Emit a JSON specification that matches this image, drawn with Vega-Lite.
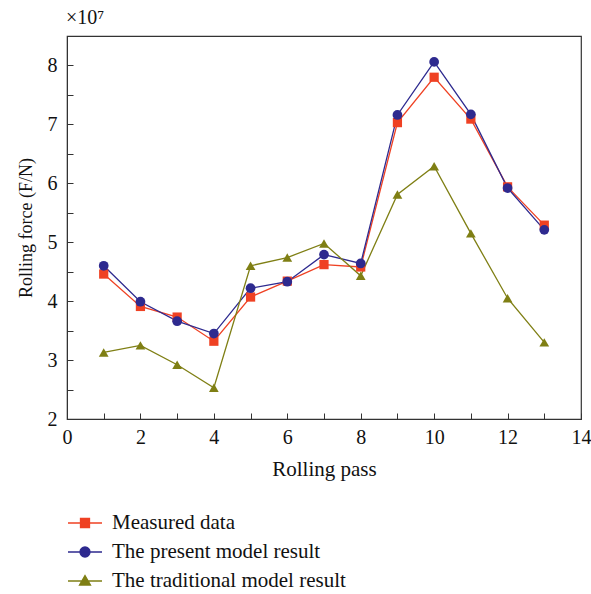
{
  "$schema": "https://vega.github.io/schema/vega-lite/v6.json",
  "width": 514,
  "height": 383,
  "autosize": "none",
  "padding": {"left": 67, "top": 36, "right": 10, "bottom": 175},
  "background": "white",
  "title": {"text": "×10⁷", "anchor": "start", "frame": "group", "font": "Liberation Serif", "fontSize": 20, "fontWeight": "normal", "color": "#111", "offset": 8, "dx": -1},
  "config": {
    "view": {"stroke": "#333", "strokeWidth": 1.2},
    "font": "Liberation Serif",
    "axis": {
      "grid": false,
      "domainColor": "#333",
      "tickColor": "#333",
      "labelFont": "Liberation Serif",
      "titleFont": "Liberation Serif",
      "labelFontSize": 20,
      "titleFontSize": 21,
      "labelColor": "#111",
      "titleColor": "#111",
      "titleFontWeight": "normal",
      "tickSize": -6,
      "labelFlush": false
    }
  },
  "data": {"values": [
    {"pass": 1, "series": "Measured data", "force": 4.46},
    {"pass": 2, "series": "Measured data", "force": 3.91},
    {"pass": 3, "series": "Measured data", "force": 3.73},
    {"pass": 4, "series": "Measured data", "force": 3.32},
    {"pass": 5, "series": "Measured data", "force": 4.07},
    {"pass": 6, "series": "Measured data", "force": 4.34},
    {"pass": 7, "series": "Measured data", "force": 4.62},
    {"pass": 8, "series": "Measured data", "force": 4.58},
    {"pass": 9, "series": "Measured data", "force": 7.03},
    {"pass": 10, "series": "Measured data", "force": 7.80},
    {"pass": 11, "series": "Measured data", "force": 7.09},
    {"pass": 12, "series": "Measured data", "force": 5.94},
    {"pass": 13, "series": "Measured data", "force": 5.29},
    {"pass": 1, "series": "The present model result", "force": 4.60},
    {"pass": 2, "series": "The present model result", "force": 3.99},
    {"pass": 3, "series": "The present model result", "force": 3.66},
    {"pass": 4, "series": "The present model result", "force": 3.45},
    {"pass": 5, "series": "The present model result", "force": 4.22},
    {"pass": 6, "series": "The present model result", "force": 4.33},
    {"pass": 7, "series": "The present model result", "force": 4.79},
    {"pass": 8, "series": "The present model result", "force": 4.64},
    {"pass": 9, "series": "The present model result", "force": 7.16},
    {"pass": 10, "series": "The present model result", "force": 8.06},
    {"pass": 11, "series": "The present model result", "force": 7.17},
    {"pass": 12, "series": "The present model result", "force": 5.92},
    {"pass": 13, "series": "The present model result", "force": 5.21},
    {"pass": 1, "series": "The traditional model result", "force": 3.13},
    {"pass": 2, "series": "The traditional model result", "force": 3.25},
    {"pass": 3, "series": "The traditional model result", "force": 2.92},
    {"pass": 4, "series": "The traditional model result", "force": 2.53},
    {"pass": 5, "series": "The traditional model result", "force": 4.60},
    {"pass": 6, "series": "The traditional model result", "force": 4.74},
    {"pass": 7, "series": "The traditional model result", "force": 4.98},
    {"pass": 8, "series": "The traditional model result", "force": 4.43},
    {"pass": 9, "series": "The traditional model result", "force": 5.81},
    {"pass": 10, "series": "The traditional model result", "force": 6.29},
    {"pass": 11, "series": "The traditional model result", "force": 5.15},
    {"pass": 12, "series": "The traditional model result", "force": 4.05},
    {"pass": 13, "series": "The traditional model result", "force": 3.30}
  ]},
  "encoding": {
    "x": {"field": "pass", "type": "quantitative", "scale": {"domain": [0, 14], "nice": false},
      "axis": {"title": "Rolling pass", "values": [0,1,2,3,4,5,6,7,8,9,10,11,12,13,14], "labelExpr": "datum.value % 2 === 0 ? datum.label : ''", "labelPadding": 14, "titlePadding": 11}},
    "y": {"field": "force", "type": "quantitative", "scale": {"domain": [2, 8.5], "nice": false, "zero": false},
      "axis": {"title": "Rolling force (F/N)", "titleFontSize": 18, "values": [2,2.5,3,3.5,4,4.5,5,5.5,6,6.5,7,7.5,8], "labelExpr": "datum.value % 1 === 0 ? format(datum.value, 'd') : ''", "labelPadding": 16, "titlePadding": 12}},
    "color": {"field": "series", "type": "nominal",
      "scale": {"domain": ["Measured data", "The present model result", "The traditional model result"], "range": ["#EF4123", "#2E2A8F", "#7F7F14"]},
      "legend": {
        "title": null, "orient": "none", "legendX": 7, "legendY": 476, "padding": 0,
        "symbolSize": 400, "labelOffset": 16, "rowPadding": 8,
        "labelFont": "Liberation Serif", "labelFontSize": 21, "labelColor": "#111", "labelLimit": 400,
        "encode": {"symbols": {"update": {
          "shape": {"signal": "datum.value === 'Measured data' ? 'M-1.7,0H1.7M-0.45,-0.45H0.45V0.45H-0.45Z' : datum.value === 'The present model result' ? 'M-1.7,0H1.7M0.5,0A0.5,0.5,0,1,1,-0.5,0A0.5,0.5,0,1,1,0.5,0' : 'M-1.7,0H1.7M0,-0.55L0.55,0.4H-0.55Z'"},
          "stroke": {"signal": "scale('color', datum.value)"},
          "fill": {"signal": "scale('color', datum.value)"},
          "strokeWidth": {"value": 1.3},
          "opacity": {"value": 1}
        }}}
      }}
  },
  "layer": [
    {"mark": {"type": "line", "strokeWidth": 1.3}},
    {"transform": [{"filter": "datum.series === 'Measured data'"}],
     "mark": {"type": "point", "filled": true, "opacity": 1, "size": 85, "shape": "square"}},
    {"transform": [{"filter": "datum.series === 'The present model result'"}],
     "mark": {"type": "point", "filled": true, "opacity": 1, "size": 95, "shape": "circle"}},
    {"transform": [{"filter": "datum.series === 'The traditional model result'"}],
     "mark": {"type": "point", "filled": true, "opacity": 1, "size": 95, "shape": "triangle-up"}}
  ]
}
